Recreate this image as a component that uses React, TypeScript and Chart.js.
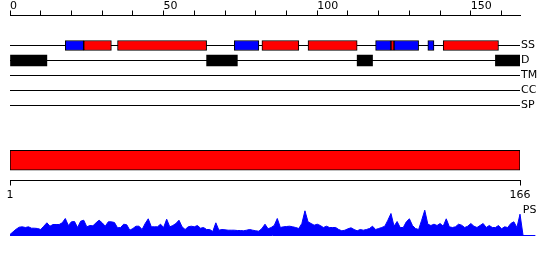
import React, { useEffect, useRef } from 'react';
import { Chart, registerables } from 'chart.js';

Chart.register(...registerables);

// ---------- data ----------
const SEQ_LENGTH = 166;
const topTickStep = 10;
const topLabelStep = 50;

const trackNames = ['SS', 'D', 'TM', 'CC', 'SP'];

// secondary structure segments (H = helix, E = strand)
const ssStart = [18, 24, 35, 73, 82, 97, 119, 124, 125, 136, 141];
const ssEnd = [24, 33, 64, 81, 94, 113, 124, 125, 133, 138, 159];
const ssType = ['E', 'H', 'H', 'E', 'H', 'H', 'E', 'H', 'E', 'E', 'H'];

// disordered segments
const disStart = [0, 64, 113, 158];
const disEnd = [12, 74, 118, 166];

// whole-sequence bar and its axis
const seqFirst = 1;
const seqLast = 166;

// PS profile, one value per residue position 0..167
const psValues = [
  1, 3.7, 6.3, 8.3, 8.7, 8, 8.7, 7.3, 7.3, 7,
  6, 9.3, 12.7, 9.3, 11, 11, 11, 12.7, 17, 10,
  13.7, 14, 8, 14.3, 15.3, 8.7, 10, 9.7, 12.7, 15.3,
  12.7, 9.3, 13.7, 13.7, 13, 7.7, 8, 11.3, 10.7, 5.3,
  7, 9.3, 9.3, 6, 12, 16.7, 8.7, 8.7, 8.7, 11.3,
  8, 16.3, 8.7, 10, 12, 15.3, 8.7, 6, 8.7, 9.3,
  8.7, 10, 7.3, 8, 6, 6, 4, 12.7, 5.3, 6,
  5.7, 5.3, 5.3, 5.3, 5, 5, 4.7, 5.3, 6, 5.3,
  4.7, 4.3, 7, 11.3, 6.7, 8, 10, 17, 8, 8.7,
  9, 9.3, 8.7, 8, 7, 12, 24.7, 13.7, 12, 10.3,
  11.3, 10, 8, 9.3, 8, 8, 8, 6, 4.7, 5.3,
  6.7, 7.7, 6, 4.7, 6, 5.3, 6, 7, 9.3, 6,
  7, 8, 9.3, 15.3, 22, 9.3, 14, 8, 8, 13.7,
  16.7, 10, 7, 6, 15.3, 25.3, 11.3, 10, 11.3, 10,
  12, 9.3, 16.7, 8.7, 8, 8.7, 11.3, 10.3, 8, 9.3,
  12, 9.3, 8, 10, 12, 8, 10, 8, 8, 10,
  6.7, 8.7, 8, 12, 13.7, 8, 21.3, 0,
];
const psLabel = 'PS';
const psBaselineEnd = 171;

// ---------- styles / layout ----------
const RED = '#ff0000';
const BLUE = '#0000ff';
const BLACK = '#000000';
const FONT = { family: 'DejaVu Sans', size: 11 };
const PLOT_LEFT = 10;
const PLOT_WIDTH = 510;
const LABEL_COL = 30;
const TRACK_GAP_TOP = 2; // empty track slots between axis and first track
const PS_RANGE = 35.5;
const PS_LABEL_LEVEL = 25;

const zeroPad = (s: any) => {
  s.paddingTop = 0;
  s.paddingBottom = 0;
  s.paddingLeft = 0;
  s.paddingRight = 0;
};

const common = {
  responsive: false,
  animation: false as const,
  devicePixelRatio: 1,
  events: [] as any[],
  plugins: { legend: { display: false }, tooltip: { enabled: false } },
};

const tickGrid = {
  display: true,
  drawOnChartArea: false,
  drawTicks: true,
  tickLength: 5,
  color: BLACK,
  lineWidth: 1,
};

const noGrid = { display: false, drawTicks: false, tickLength: 0 };

export default function App() {
  const refA = useRef<HTMLCanvasElement>(null);
  const refB = useRef<HTMLCanvasElement>(null);
  const refC = useRef<HTMLCanvasElement>(null);

  useEffect(() => {
    const charts: Chart[] = [];

    // ----- tracks chart -----
    charts.push(
      new Chart(refA.current!, {
        type: 'bar',
        data: {
          datasets: [
            {
              type: 'bar',
              data: ssStart.map((s, i) => ({ x: [s, ssEnd[i]], y: 0 })) as any,
              backgroundColor: ssType.map((t) => (t === 'H' ? RED : BLUE)),
              borderColor: BLACK,
              borderWidth: 1,
              borderSkipped: false,
              barThickness: 10,
              grouped: false,
              order: 1,
            } as any,
            {
              type: 'bar',
              data: disStart.map((s, i) => ({ x: [s, disEnd[i]], y: 1 })) as any,
              backgroundColor: BLACK,
              borderWidth: 0,
              barThickness: 11,
              grouped: false,
              order: 1,
            } as any,
            ...trackNames.map(
              (_, i) =>
                ({
                  type: 'line',
                  data: [
                    { x: 0, y: i },
                    { x: SEQ_LENGTH, y: i },
                  ],
                  borderColor: BLACK,
                  borderWidth: 1,
                  pointRadius: 0,
                  fill: false,
                  clip: false,
                  order: 2,
                }) as any,
            ),
          ],
        },
        options: {
          ...common,
          indexAxis: 'y',
          layout: { padding: { left: PLOT_LEFT, right: 0, top: 0, bottom: 9.5 } },
          scales: {
            x: {
              type: 'linear',
              position: 'top',
              min: 0,
              max: SEQ_LENGTH,
              offset: false,
              grid: tickGrid,
              border: { display: true, color: BLACK, width: 1 },
              ticks: {
                stepSize: topTickStep,
                includeBounds: false,
                autoSkip: false,
                maxRotation: 0,
                minRotation: 0,
                align: 'start',
                padding: -2,
                color: BLACK,
                font: FONT,
                callback: (v: any) => (Number(v) % topLabelStep === 0 ? String(v) : ''),
              },
              afterFit: (s: any) => {
                s.height = 15.5;
                zeroPad(s);
              },
            },
            y: {
              type: 'linear',
              position: 'right',
              reverse: true,
              min: -TRACK_GAP_TOP,
              max: trackNames.length - 1,
              offset: false,
              grid: noGrid,
              border: { display: false },
              ticks: {
                padding: 1,
                color: BLACK,
                font: FONT,
                autoSkip: false,
                callback: (v: any) => trackNames[Number(v)] ?? '',
              },
              afterBuildTicks: (s: any) => {
                s.ticks = trackNames.map((_, i) => ({ value: i }));
              },
              afterFit: (s: any) => {
                s.width = LABEL_COL;
                zeroPad(s);
              },
            },
          },
        } as any,
      }),
    );

    // ----- whole sequence bar -----
    charts.push(
      new Chart(refB.current!, {
        type: 'bar',
        data: {
          datasets: [
            {
              data: [{ x: [seqFirst, seqLast], y: 0 }] as any,
              backgroundColor: RED,
              borderColor: BLACK,
              borderWidth: 1,
              borderSkipped: false,
              barThickness: 20,
              grouped: false,
            } as any,
          ],
        },
        options: {
          ...common,
          indexAxis: 'y',
          layout: { padding: { left: PLOT_LEFT, right: LABEL_COL, top: 0, bottom: 0 } },
          scales: {
            x: {
              type: 'linear',
              position: 'bottom',
              min: seqFirst,
              max: seqLast,
              offset: false,
              grid: tickGrid,
              border: { display: true, color: BLACK, width: 1 },
              ticks: {
                padding: 3,
                color: BLACK,
                font: FONT,
                autoSkip: false,
                maxRotation: 0,
                minRotation: 0,
              },
              afterBuildTicks: (s: any) => {
                s.ticks = [{ value: seqFirst }, { value: seqLast }];
              },
              afterFit: (s: any) => {
                s.height = 24.5;
                zeroPad(s);
              },
            },
            y: { type: 'linear', display: false, min: -1, max: 1, offset: false },
          },
        } as any,
      }),
    );

    // ----- PS profile -----
    const rightPad = 550 - PLOT_LEFT - (PLOT_WIDTH * psBaselineEnd) / SEQ_LENGTH;
    charts.push(
      new Chart(refC.current!, {
        type: 'line',
        data: {
          datasets: [
            {
              data: psValues.map((v, i) => ({ x: i, y: v })),
              borderColor: BLUE,
              backgroundColor: BLUE,
              borderWidth: 1,
              pointRadius: 0,
              tension: 0,
              fill: 'origin',
              clip: false,
              order: 1,
            } as any,
            {
              data: [
                { x: 0, y: 0 },
                { x: psBaselineEnd, y: 0 },
              ],
              borderColor: BLUE,
              borderWidth: 1,
              pointRadius: 0,
              fill: false,
              clip: false,
              order: 2,
            } as any,
          ],
        },
        options: {
          ...common,
          layout: { padding: { left: PLOT_LEFT, right: 0, top: 0, bottom: 8.5 } },
          scales: {
            x: { type: 'linear', display: false, min: 0, max: psBaselineEnd },
            y: {
              type: 'linear',
              position: 'right',
              min: 0,
              max: PS_RANGE,
              grid: noGrid,
              border: { display: false },
              ticks: {
                mirror: true,
                crossAlign: 'near',
                padding: 1,
                color: BLACK,
                font: FONT,
                callback: () => psLabel,
              },
              afterBuildTicks: (s: any) => {
                s.ticks = [{ value: PS_LABEL_LEVEL }];
              },
              afterFit: (s: any) => {
                s.width = rightPad;
                zeroPad(s);
              },
            },
          },
        } as any,
      }),
    );

    return () => charts.forEach((c) => c.destroy());
  }, []);

  const cs: React.CSSProperties = { position: 'absolute', left: 0, display: 'block' };
  return (
    <div
      style={{
        position: 'absolute',
        left: 0,
        top: 0,
        width: 550,
        height: 260,
        background: '#ffffff',
        overflow: 'hidden',
      }}
    >
      <canvas ref={refA} width={550} height={115} style={{ ...cs, top: 0 }} />
      <canvas ref={refB} width={550} height={65} style={{ ...cs, top: 140 }} />
      <canvas ref={refC} width={550} height={44} style={{ ...cs, top: 200 }} />
    </div>
  );
}
